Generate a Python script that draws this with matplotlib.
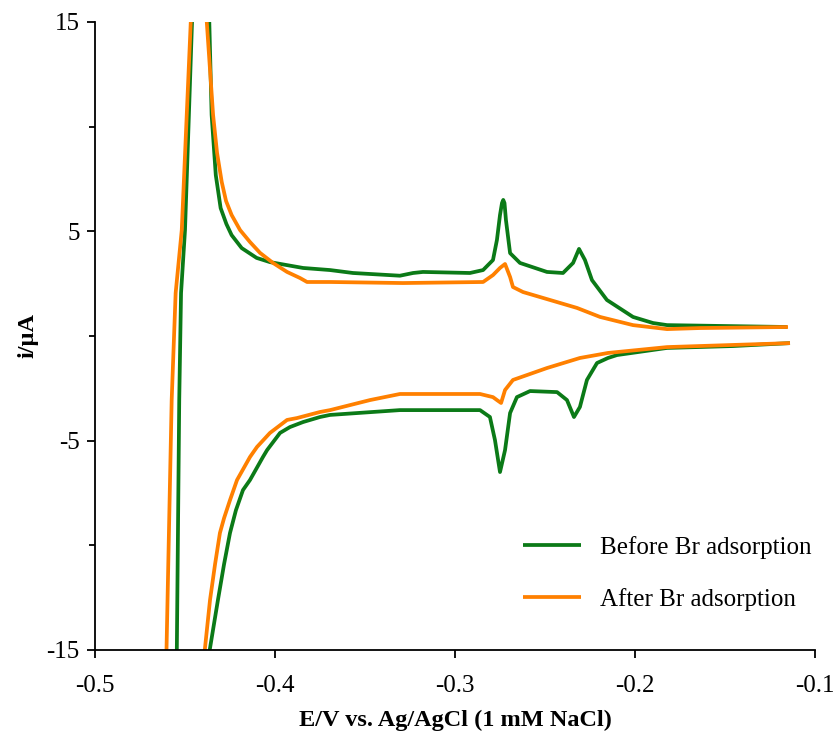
import numpy as np
import matplotlib
matplotlib.use('Agg')
import matplotlib.pyplot as plt


# cyclic voltammograms, anodic (upper) and cathodic (lower) branches
before_up_E = [-0.4546, -0.4532, -0.4522, -0.4500, -0.4461, -0.4411,
               -0.4365, -0.4352, -0.4329, -0.4302, -0.4270, -0.4241, -0.4185, -0.4102,
               -0.4028, -0.3844, -0.3694, -0.3567, -0.3306, -0.3233, -0.3178, -0.2917,
               -0.2844, -0.2789, -0.2767, -0.2750, -0.2739, -0.2732, -0.2725, -0.2717,
               -0.2694, -0.2639, -0.2489, -0.2400, -0.2344, -0.2311, -0.2278, -0.2239,
               -0.2156, -0.2011, -0.1900, -0.1822, -0.1156]
before_up_i = [-15.5, -3.06, 2.05, 5.06, 15.0, 26.5,
               15.0, 10.56, 7.69, 6.11, 5.35, 4.82, 4.20, 3.73,
               3.53, 3.25, 3.15, 3.01, 2.88, 3.01, 3.06, 3.01,
               3.15, 3.63, 4.59, 5.78, 6.35, 6.50, 6.35, 5.54,
               3.96, 3.49, 3.06, 3.01, 3.49, 4.16, 3.63, 2.67,
               1.72, 0.91, 0.62, 0.52, 0.43]
before_down_E = [-0.1139, -0.1456, -0.1822, -0.2100, -0.2150, -0.2211, -0.2267, -0.2306,
                 -0.2339, -0.2378, -0.2433, -0.2583, -0.2656, -0.2694, -0.2722, -0.2750,
                 -0.2778, -0.2806, -0.2861, -0.3306, -0.3694, -0.3750, -0.3844, -0.3917,
                 -0.3972, -0.4044, -0.4067, -0.4139, -0.4178, -0.4217, -0.4250, -0.4283,
                 -0.4317, -0.4361, -0.4372]
before_down_i = [-0.34, -0.48, -0.57, -0.91, -1.05, -1.29, -2.10, -3.39,
                 -3.87, -3.06, -2.68, -2.63, -2.92, -3.68, -5.45, -6.50,
                 -4.97, -3.87, -3.54, -3.54, -3.77, -3.87, -4.11, -4.35,
                 -4.63, -5.45, -5.78, -6.88, -7.36, -8.32, -9.41, -10.90,
                 -12.61, -14.91, -15.48]

after_up_E = [-0.4604, -0.4574, -0.4552, -0.4518, -0.4468, -0.4433,
              -0.4379, -0.4344, -0.4322, -0.4296, -0.4272, -0.4241, -0.4194, -0.4139,
              -0.4083, -0.4011, -0.3933, -0.3861, -0.3822, -0.3694, -0.3289, -0.2844,
              -0.2789, -0.2750, -0.2722, -0.2694, -0.2678, -0.2622, -0.2322, -0.2194,
              -0.2011, -0.1822, -0.1639, -0.1150]
after_up_i = [-15.5, -3.06, 2.05, 5.06, 15.0, 21.9,
              15.0, 10.56, 8.75, 7.36, 6.45, 5.78, 5.06, 4.49,
              3.97, 3.49, 3.06, 2.77, 2.58, 2.58, 2.53, 2.58,
              2.91, 3.25, 3.44, 2.82, 2.34, 2.10, 1.34, 0.91,
              0.52, 0.33, 0.38, 0.43]
after_down_E = [-0.1139, -0.1822, -0.2150, -0.2306, -0.2489, -0.2678, -0.2722, -0.2744,
                -0.2767, -0.2789, -0.2861, -0.3306, -0.3472, -0.3694, -0.3750, -0.3878,
                -0.3933, -0.4028, -0.4100, -0.4139, -0.4211, -0.4250, -0.4283, -0.4306,
                -0.4333, -0.4361, -0.4389, -0.4394]
after_down_i = [-0.34, -0.53, -0.81, -1.05, -1.53, -2.10, -2.58, -3.20,
                -3.06, -2.92, -2.77, -2.77, -3.06, -3.54, -3.63, -3.92,
                -4.01, -4.63, -5.30, -5.78, -6.88, -7.84, -8.70, -9.41,
                -10.90, -12.61, -14.91, -15.48]

labels = ['Before Br adsorption', 'After Br adsorption']
colors = ['#0b7a17', '#ff8000']

plt.rcParams['font.family'] = ['Liberation Serif', 'DejaVu Serif']

fig = plt.figure(figsize=(8.36, 7.38), dpi=100)
ax = fig.add_axes([95 / 836, 1 - 650 / 738, 720 / 836, 628 / 738])

line_kw = dict(lw=2.7, solid_joinstyle='round', solid_capstyle='butt')
ax.plot(before_up_E, before_up_i, color=colors[0], label=labels[0], **line_kw)
ax.plot(before_down_E, before_down_i, color=colors[0], **line_kw)
ax.plot(after_up_E, after_up_i, color=colors[1], label=labels[1], **line_kw)
ax.plot(after_down_E, after_down_i, color=colors[1], **line_kw)

ax.set_xlim(-0.5, -0.1)
ax.set_ylim(-15, 15)
ax.set_xticks(np.arange(-0.5, -0.05, 0.1))
ax.set_xticklabels(['-0.5', '-0.4', '-0.3', '-0.2', '-0.1'])
ax.set_yticks([-15, -5, 5, 15])
ax.set_yticklabels(['-15', '-5', '5', '15'])
ax.set_yticks([-10, 0, 10], minor=True)

for s in ['top', 'right']:
    ax.spines[s].set_visible(False)
for s in ['left', 'bottom']:
    ax.spines[s].set_linewidth(1.3)
ax.tick_params(which='major', direction='out', length=6, width=1.3, labelsize=18, pad=5)
ax.tick_params(axis='x', which='major', pad=12)
ax.tick_params(which='minor', direction='out', length=4, width=1.3)

ax.set_xlabel('E/V vs. Ag/AgCl (1 mM NaCl)', fontsize=17.5, fontweight='bold', labelpad=9)
ax.set_ylabel('i/\u00b5A', fontsize=17.5, fontweight='bold')
ax.yaxis.set_label_coords(-0.078, 0.5)

ax.legend(loc='upper left', bbox_to_anchor=(523 / 836, 1 - 536 / 738),
          bbox_transform=fig.transFigure, frameon=False, fontsize=18,
          handlelength=2.3, handletextpad=0.8, labelspacing=1.15,
          borderpad=0, borderaxespad=0)

fig.savefig('out.png', dpi=100)
